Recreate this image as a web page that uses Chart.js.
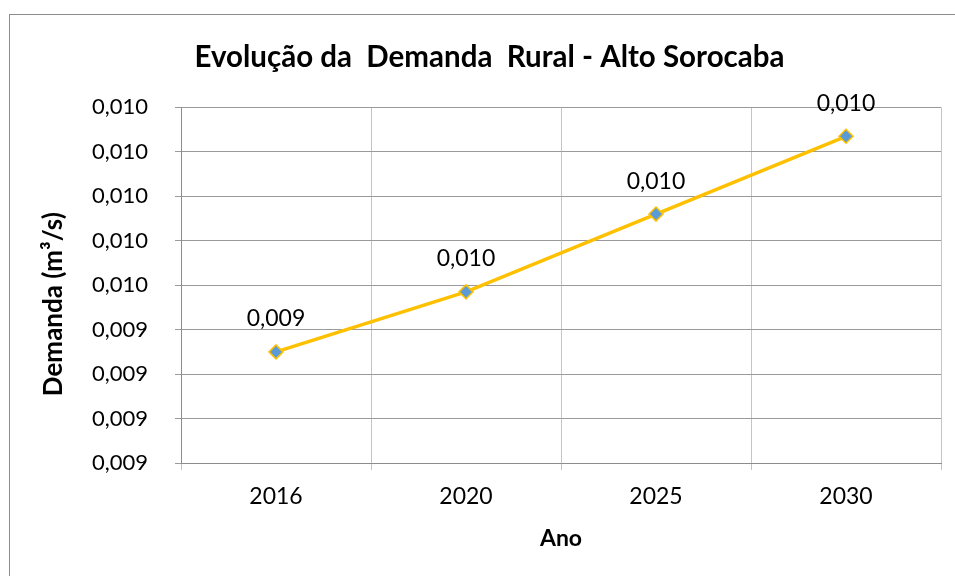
<!DOCTYPE html>
<html>
<head>
<meta charset="utf-8">
<script src="https://cdn.jsdelivr.net/npm/chart.js@4.4.1/dist/chart.umd.min.js"></script>
<style>
  html, body { margin: 0; padding: 0; background: #fff; overflow: hidden; }
  #moldura { position: absolute; left: 9px; top: 14px; width: 960px; height: 580px; border: 1px solid #8c8c8c; }
  #grafico { position: absolute; left: 0; top: 0; }
</style>
</head>
<body>
<div id="moldura"></div>
<canvas id="grafico" width="955" height="576"></canvas>
<script>
// Dados
const anos = ["2016", "2020", "2025", "2030"];
const demanda = [0.00930, 0.00957, 0.00992, 0.01027];
const eixoMin = 0.0088, eixoMax = 0.0104, passo = 0.0002;

const fonte = "Lato, 'Open Sans', sans-serif";
const formata = v => v.toFixed(3).replace(".", ",");

// Rótulos de dados acima dos pontos
const rotulos = {
    id: "rotulos",
    afterDatasetsDraw(chart) {
        const ctx = chart.ctx;
        const meta = chart.getDatasetMeta(0);
        ctx.save();
        ctx.font = "23px " + fonte;
        ctx.fillStyle = "#000";
        ctx.textAlign = "center";
        ctx.textBaseline = "middle";
        meta.data.forEach((p, i) => {
            ctx.fillText(formata(demanda[i]), p.x, p.y - 33);
        });
        ctx.restore();
    }
};

new Chart(document.getElementById("grafico"), {
    type: "line",
    data: {
        labels: anos,
        datasets: [{
            data: demanda,
            borderColor: "#FFC000",
            borderWidth: 3.5,
            pointStyle: "rectRot",
            pointRadius: 7,
            pointBackgroundColor: "#5B9BD5",
            pointBorderColor: "#FFC000",
            pointBorderWidth: 1.5,
            tension: 0
        }]
    },
    options: {
        responsive: false,
        animation: false,
        layout: { padding: { left: 38, right: 14, top: 0, bottom: 0 } },
        plugins: {
            legend: { display: false },
            tooltip: { enabled: false },
            title: {
                display: true,
                text: "Evolução da  Demanda  Rural - Alto Sorocaba",
                color: "#000",
                font: { family: fonte, size: 29.5, weight: "bold" },
                padding: { top: 40, bottom: 32 }
            }
        },
        scales: {
            x: {
                offset: true,
                grid: { offset: true, color: "#c4c4c4", tickLength: 7 },
                border: { color: "#8c8c8c" },
                ticks: { color: "#000", padding: 13, font: { family: fonte, size: 23 } },
                title: {
                    display: true, text: "Ano", color: "#000",
                    font: { family: fonte, size: 23, weight: "bold" },
                    padding: { top: 0, bottom: 24 }
                },
                afterFit(s) { s.height = 113; }
            },
            y: {
                min: eixoMin, max: eixoMax,
                grid: { color: "#9a9a9a", tickLength: 6 },
                border: { color: "#8c8c8c" },
                ticks: {
                    stepSize: passo, color: "#000", padding: 27,
                    font: { family: fonte, size: 22 },
                    callback: v => formata(v)
                },
                title: {
                    display: true, text: "Demanda (m³/s)      ", color: "#000",
                    font: { family: fonte, size: 26, weight: "bold" },
                    padding: { top: 0, bottom: 0 }
                },
                afterFit(s) { s.width = 143; }
            }
        }
    },
    plugins: [rotulos]
});
</script>
</body>
</html>
